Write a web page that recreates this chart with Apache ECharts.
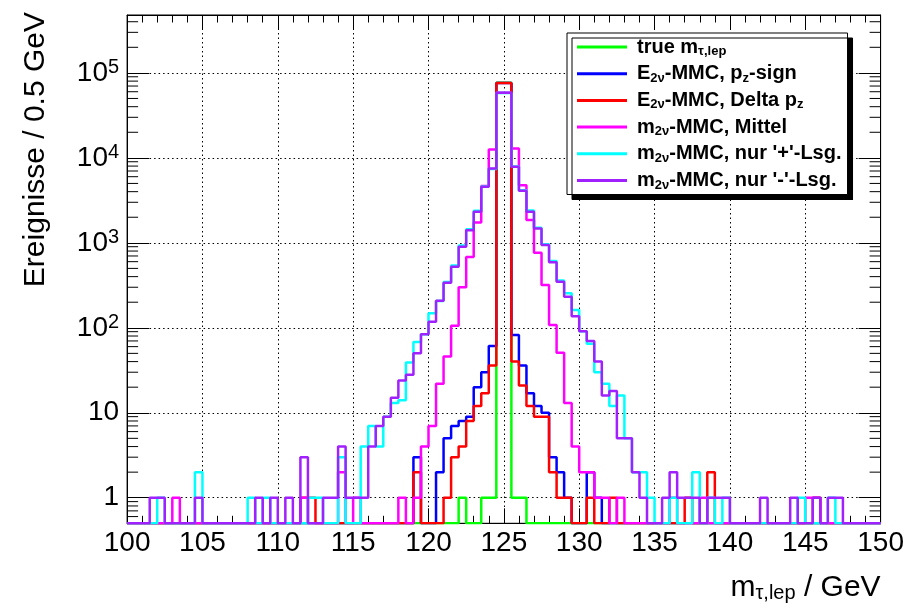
<!DOCTYPE html>
<html>
<head>
<meta charset="utf-8">
<script src="https://cdn.jsdelivr.net/npm/echarts@6/dist/echarts.min.js"></script>
<style>
html,body{margin:0;padding:0;background:#fff;}
#chart{width:906px;height:609px;}
</style>
</head>
<body>
<div id="chart"></div>
<script>
// ---------------- data ----------------
const X_MIN = 100;
const X_MAX = 150;
const BIN_WIDTH = 0.5;
const Y_MIN = 0.5;
const Y_MAX = 4.8e5;

const seriesNames = [
  'true m_τ,lep',
  'E_2ν-MMC, p_z-sign',
  'E_2ν-MMC, Delta p_z',
  'm_2ν-MMC, Mittel',
  "m_2ν-MMC, nur '+'-Lsg.",
  "m_2ν-MMC, nur '-'-Lsg."
];
const legendLabels = [
  'true m{sub|τ,lep}',
  'E{sub|2ν}-MMC, p{sub|z}-sign',
  'E{sub|2ν}-MMC, Delta p{sub|z}',
  'm{sub|2ν}-MMC, Mittel',
  "m{sub|2ν}-MMC, nur '+'-Lsg.",
  "m{sub|2ν}-MMC, nur '-'-Lsg."
];
const seriesColors = ['#00ff00', '#0000ff', '#ff0000', '#ff00ff', '#00ffff', '#a020ff'];

// events per 0.5 GeV bin, bins 100.0-100.5 ... 149.5-150.0 (10 bins per row)
const trueMass = [
  0,0,0,0,0,0,0,0,0,0,
  0,0,0,0,0,0,0,0,0,0,
  0,0,0,0,0,0,0,0,0,0,
  0,0,0,0,0,0,0,0,0,0,
  0,0,0,0,1,0,0,1,1,76500,
  76500,1,1,0,0,0,0,0,0,0,
  0,0,0,0,0,0,0,0,0,0,
  0,0,0,0,0,0,0,0,0,0,
  0,0,0,0,0,0,0,0,0,0,
  0,0,0,0,0,0,0,0,0,0
];
const e2vPzSign = [
  0,0,0,0,0,0,0,0,0,0,
  0,0,0,0,0,0,0,0,0,0,
  0,0,0,0,0,0,0,0,0,0,
  0,0,0,0,0,0,0,0,3,0,
  0,2,5,7,8,9,20,30,61,75900,
  75900,82,36,17,12,10,3,2,1,0,
  0,2,1,0,0,0,0,0,0,0,
  0,0,0,0,0,0,0,0,0,0,
  0,0,0,0,0,0,0,0,0,0,
  0,0,0,0,0,0,0,0,0,0
];
const e2vDeltaPz = [
  0,0,0,0,0,0,0,0,0,0,
  0,0,0,0,0,0,0,0,0,0,
  0,0,0,1,1,0,0,0,0,0,
  0,0,0,0,0,0,0,0,2,0,
  0,0,1,3,4,8,12,17,36,76200,
  76200,40,21,12,9,9,2,1,1,0,
  0,1,0,0,1,0,0,0,0,0,
  0,0,0,0,1,0,0,2,0,0,
  0,0,0,0,0,0,0,0,0,0,
  0,1,0,0,0,0,0,0,0,0
];
const m2vMittel = [
  0,0,0,0,0,0,1,0,0,0,
  0,0,0,0,0,0,0,0,0,0,
  0,0,0,1,0,0,0,0,2,0,
  1,0,0,0,0,0,1,0,1,4,
  7,22,46,106,300,680,1740,4650,12560,58200,
  58200,12900,4770,1850,763,318,108,51,13,4,
  2,2,1,1,0,1,0,0,0,0,
  0,0,1,0,0,0,1,0,0,0,
  0,0,0,0,0,0,0,0,0,0,
  1,1,0,0,0,0,0,0,0,0
];
const m2vPlus = [
  0,0,0,0,1,0,0,0,0,2,
  0,0,0,0,0,0,1,0,1,0,
  0,0,0,0,1,1,0,0,3,0,
  0,4,7,4,9,13,14,39,68,84,
  148,206,345,540,930,1440,2380,4600,7400,58000,
  58000,7900,4150,2400,1500,960,610,360,255,162,
  91,65,30,22,12,16,5,2,2,1,
  0,0,1,0,0,2,0,1,0,1,
  0,0,0,0,0,0,0,0,0,1,
  0,0,0,1,0,0,0,0,0,0
];
const m2vMinus = [
  0,0,0,1,1,0,0,0,0,1,
  0,0,0,0,0,0,0,1,0,1,
  0,1,0,3,0,0,1,1,4,1,
  1,1,4,7,9,15,24,28,50,84,
  118,208,338,522,897,1410,2316,4560,7500,58200,
  58200,7840,4090,2316,1477,940,590,348,232,137,
  91,70,40,16,18,5,5,2,1,0,
  0,1,2,1,1,1,0,1,1,1,
  0,0,0,0,1,0,0,0,1,0,
  0,1,0,1,1,0,0,0,0,0
];
const seriesValues = [trueMass, e2vPzSign, e2vDeltaPz, m2vMittel, m2vPlus, m2vMinus];

// ---------------- helpers ----------------
const FONT = '"Liberation Sans", Arial, Helvetica, sans-serif';
const nBins = trueMass.length;
const binEdges = [];
for (let i = 0; i <= nBins; i++) binEdges.push(X_MIN + i * BIN_WIDTH);

// histogram outline: one point per lower bin edge plus the closing edge;
// empty bins sit on the lower frame edge, as in the original log plot
function histPoints(vals) {
  const pts = vals.map((v, i) => [binEdges[i], v > 0 ? v : Y_MIN]);
  pts.push([binEdges[nBins], pts[nBins - 1][1]]);
  return pts;
}

// minor log ticks 2..9 x 10^k (and 0.6..0.9)
const minorTickValues = [];
for (let k = -1; k <= 5; k++) {
  for (let m = 2; m <= 9; m++) {
    const v = m * Math.pow(10, k);
    if (v > Y_MIN && v < Y_MAX) minorTickValues.push(v);
  }
}

const histSeries = seriesNames.map((name, idx) => ({
  name: name,
  type: 'line',
  step: 'end',
  data: histPoints(seriesValues[idx]),
  symbol: 'none',
  showSymbol: false,
  clip: true,
  color: seriesColors[idx],
  lineStyle: { color: seriesColors[idx], width: 2.5 },
  emphasis: { disabled: true },
  animation: false
}));

const minorTickSeries = {
  name: 'minorTicks',
  type: 'custom',
  silent: true,
  animation: false,
  data: minorTickValues.map(v => [X_MIN, v]),
  encode: { x: 0, y: 1 },
  renderItem: function (params, api) {
    const v = api.value(1);
    const pl = api.coord([X_MIN, v]);
    const pr = api.coord([X_MAX, v]);
    const len = 11;
    return {
      type: 'group',
      children: [
        { type: 'line', shape: { x1: pl[0], y1: pl[1], x2: pl[0] + len, y2: pl[1] }, style: { stroke: '#000', lineWidth: 1 } },
        { type: 'line', shape: { x1: pr[0] - len, y1: pr[1], x2: pr[0], y2: pr[1] }, style: { stroke: '#000', lineWidth: 1 } }
      ]
    };
  },
  z: 5
};

function yLabel(v) {
  const k = Math.round(Math.log10(v));
  if (k === 0) return '{b|1}';
  if (k === 1) return '{b|10}';
  return '{b|10}{sup|' + k + '}';
}

const gridLine = { show: true, lineStyle: { color: '#000', width: 1, type: [1.5, 3] } };

const chart = echarts.init(document.getElementById('chart'), null, { renderer: 'canvas' });
chart.setOption({
  animation: false,
  backgroundColor: '#fff',
  grid: {
    left: 127.1, right: 25.4, top: 15, bottom: 85.7,
    outerBoundsMode: 'none', containLabel: false,
    show: true, borderColor: '#000', borderWidth: 1, backgroundColor: 'transparent'
  },
  legend: {
    data: seriesNames,
    orient: 'vertical',
    left: 567,
    top: 33,
    padding: [3, 6, 3, 10],
    icon: 'rect',
    itemWidth: 50,
    itemHeight: 3,
    itemGap: 4.7,
    backgroundColor: '#fff',
    borderColor: '#000',
    borderWidth: 1,
    shadowColor: '#000',
    shadowOffsetX: 5,
    shadowOffsetY: 5,
    shadowBlur: 0.01,
    selectedMode: false,
    formatter: function (name) { return legendLabels[seriesNames.indexOf(name)]; },
    textStyle: {
      fontFamily: FONT, fontSize: 20, fontWeight: 'bold', color: '#000', lineHeight: 22,
      padding: [0, 0, 0, 5],
      rich: {
        sub: { fontFamily: FONT, fontSize: 13, fontWeight: 'bold', color: '#000', lineHeight: 6, verticalAlign: 'bottom' }
      }
    }
  },
  xAxis: [
    {
      type: 'value', min: X_MIN, max: X_MAX, interval: 5, position: 'bottom',
      axisLine: { show: true, onZero: false, lineStyle: { color: '#000', width: 1 } },
      axisTick: { show: true, inside: true, length: 15, lineStyle: { color: '#000' } },
      minorTick: { show: true, splitNumber: 5, length: 7.5, lineStyle: { color: '#000' } },
      splitLine: gridLine,
      axisLabel: { fontFamily: FONT, fontSize: 28, color: '#000', margin: 6 },
      name: 'm{sub|τ,lep} / GeV',
      nameLocation: 'end',
      nameGap: 0,
      nameMoveOverlap: false,
      nameTextStyle: {
        fontFamily: FONT, fontSize: 30, color: '#000', align: 'right', verticalAlign: 'top',
        lineHeight: 32, padding: [48, 0, 0, 0],
        rich: { sub: { fontFamily: FONT, fontSize: 20, color: '#000', lineHeight: 6, verticalAlign: 'bottom' } }
      }
    },
    {
      type: 'value', min: X_MIN, max: X_MAX, interval: 5, position: 'top',
      axisLine: { show: true, onZero: false, lineStyle: { color: '#000', width: 1 } },
      axisTick: { show: true, inside: true, length: 15, lineStyle: { color: '#000' } },
      minorTick: { show: true, splitNumber: 5, length: 7.5, lineStyle: { color: '#000' } },
      splitLine: { show: false },
      axisLabel: { show: false }
    }
  ],
  yAxis: [
    {
      type: 'log', logBase: 10, min: Y_MIN, max: Y_MAX, position: 'left',
      axisLine: { show: true, onZero: false, lineStyle: { color: '#000', width: 1 } },
      axisTick: { show: true, inside: true, length: 22, lineStyle: { color: '#000' } },
      splitLine: gridLine,
      axisLabel: {
        fontFamily: FONT, color: '#000', margin: 8, showMinLabel: false, showMaxLabel: false,
        formatter: yLabel,
        rich: {
          b: { fontFamily: FONT, fontSize: 28, color: '#000', lineHeight: 30, verticalAlign: 'middle' },
          sup: { fontFamily: FONT, fontSize: 20, color: '#000', lineHeight: 14, verticalAlign: 'top' }
        }
      },
      name: 'Ereignisse / 0.5 GeV',
      nameLocation: 'end',
      nameRotate: 90,
      nameGap: 3,
      nameMoveOverlap: false,
      nameTextStyle: { fontFamily: FONT, fontSize: 30, color: '#000', align: 'right', verticalAlign: 'bottom', padding: [0, 0, 76, 0] }
    },
    {
      type: 'log', logBase: 10, min: Y_MIN, max: Y_MAX, position: 'right',
      axisLine: { show: true, onZero: false, lineStyle: { color: '#000', width: 1 } },
      axisTick: { show: true, inside: true, length: 22, lineStyle: { color: '#000' } },
      splitLine: { show: false },
      axisLabel: { show: false }
    }
  ],
  series: histSeries.concat([minorTickSeries])
});
</script>
</body>
</html>
